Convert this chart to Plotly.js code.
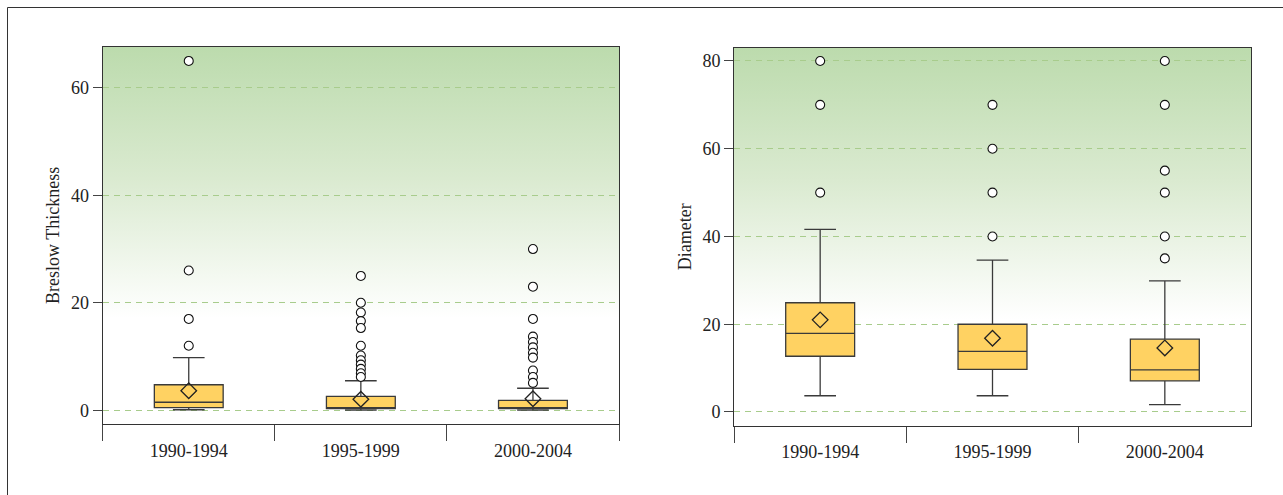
<!DOCTYPE html>
<html>
<head>
<meta charset="utf-8">
<script src="https://cdn.plot.ly/plotly-3.0.1.min.js"></script>
<style>
  html, body { margin: 0; padding: 0; background: #ffffff; }
  #chart { width: 1283px; height: 495px; }
</style>
</head>
<body>
<div id="chart"></div>
<script>
// ---------- data ----------
const categories = ["1990-1994", "1995-1999", "2000-2004"];

// Breslow Thickness
const breslowQ1     = [0.5, 0.3, 0.3];
const breslowMedian = [1.5, 0.4, 0.4];
const breslowQ3     = [4.75, 2.6, 1.85];
const breslowLower  = [0.1, 0.05, 0.05];
const breslowUpper  = [9.8, 5.5, 4.1];
const breslowMean   = [3.65, 2.05, 2.15];
const breslowOut1990 = [12, 17, 26, 65];
const breslowOut1995 = [25, 20, 18.2, 16.6, 15.3, 12, 10.2, 9.3, 8.5, 7.7, 6.9, 6.2];
const breslowOut2000 = [30, 23, 17, 13.7, 12.7, 11.7, 10.7, 9.8, 7.4, 6.2, 5.1];

// Diameter
const diamQ1     = [12.7, 9.7, 7.1];
const diamMedian = [17.9, 13.8, 9.6];
const diamQ3     = [24.9, 20.0, 16.6];
const diamLower  = [3.7, 3.7, 1.7];
const diamUpper  = [41.6, 34.6, 29.9];
const diamMean   = [21.0, 16.8, 14.6];
const diamOut1990 = [50, 70, 80];
const diamOut1995 = [40, 50, 60, 70];
const diamOut2000 = [35, 40, 50, 55, 70, 80];

const breslowTicks = [0, 20, 40, 60];
const diamTicks = [0, 20, 40, 60, 80];

// ---------- helpers ----------
function flattenOutliers(groups) {
  const xs = [], ys = [];
  groups.forEach((g, i) => g.forEach(v => { xs.push(categories[i]); ys.push(v); }));
  return { x: xs, y: ys };
}

const boxFill = "#ffd262";
const boxLine = "#3a3a3a";
const fontFam = "Liberation Serif, Times New Roman, serif";

function boxTrace(xa, ya, q1, med, q3, lo, hi) {
  return {
    type: "box", xaxis: xa, yaxis: ya,
    x: categories, q1: q1, median: med, q3: q3,
    lowerfence: lo, upperfence: hi,
    boxpoints: false, width: 0.4, whiskerwidth: 0.46,
    fillcolor: boxFill, line: { color: boxLine, width: 1.3 },
    hoverinfo: "skip", showlegend: false
  };
}
function meanTrace(xa, ya, mean) {
  return {
    type: "scatter", mode: "markers", xaxis: xa, yaxis: ya,
    x: categories, y: mean,
    marker: { symbol: "diamond-open", size: 12, color: "#222", line: { width: 1.3, color: "#222" } },
    hoverinfo: "skip", showlegend: false
  };
}
function outTrace(xa, ya, groups) {
  const f = flattenOutliers(groups);
  return {
    type: "scatter", mode: "markers", xaxis: xa, yaxis: ya,
    x: f.x, y: f.y,
    marker: { symbol: "circle", size: 9, color: "#ffffff", line: { width: 1.1, color: "#111" } },
    hoverinfo: "skip", showlegend: false
  };
}

const data = [
  boxTrace("x", "y", breslowQ1, breslowMedian, breslowQ3, breslowLower, breslowUpper),
  meanTrace("x", "y", breslowMean),
  outTrace("x", "y", [breslowOut1990, breslowOut1995, breslowOut2000]),
  boxTrace("x2", "y2", diamQ1, diamMedian, diamQ3, diamLower, diamUpper),
  meanTrace("x2", "y2", diamMean),
  outTrace("x2", "y2", [diamOut1990, diamOut1995, diamOut2000])
];

// gradient background (SVG data URI)
const gradSvg = '<svg xmlns="http://www.w3.org/2000/svg" width="100" height="400" preserveAspectRatio="none">' +
  '<defs><linearGradient id="g" x1="0" y1="0" x2="0" y2="1">' +
  '<stop offset="0" stop-color="rgb(188,219,173)"/>' +
  '<stop offset="0.35" stop-color="rgb(218,234,208)"/>' +
  '<stop offset="0.72" stop-color="rgb(255,255,255)"/>' +
  '<stop offset="1" stop-color="rgb(255,255,255)"/>' +
  '</linearGradient></defs><rect width="100" height="400" fill="url(#g)"/></svg>';
const gradSrc = "data:image/svg+xml;charset=utf-8," + encodeURIComponent(gradSvg);

const W = 1283, H = 495;
const gridColor = "rgb(168,204,140)";

function xAxis(domain) {
  return {
    domain: domain, type: "category", categoryarray: categories, categoryorder: "array",
    range: [-0.5, 2.5], tickson: "boundaries", ticks: "outside", ticklen: 16,
    tickcolor: "#444", tickwidth: 1, showline: true, mirror: true,
    linecolor: "#333", linewidth: 1, showgrid: false, zeroline: false,
    ticklabelstandoff: 10,
    tickfont: { family: fontFam, size: 18, color: "#222" }, fixedrange: true
  };
}
function yAxis(domain, range, ticks, title, anchor) {
  return {
    domain: domain, range: range, tickvals: ticks, ticktext: ticks.map(String),
    ticks: "outside", ticklen: 9, tickcolor: "#444", tickwidth: 1,
    showline: true, mirror: true, linecolor: "#333", linewidth: 1,
    showgrid: true, gridcolor: gridColor, griddash: "6px,5px", gridwidth: 1,
    zeroline: false, anchor: anchor,
    tickfont: { family: fontFam, size: 18, color: "#222" },
    title: { text: title, font: { family: fontFam, size: 18, color: "#222" }, standoff: 6 },
    fixedrange: true
  };
}

const layout = {
  width: W, height: H,
  margin: { l: 0, r: 0, t: 0, b: 0, pad: 0 },
  paper_bgcolor: "#ffffff", plot_bgcolor: "#ffffff",
  showlegend: false,
  font: { family: fontFam, size: 18, color: "#222" },
  xaxis: xAxis([102.7 / W, 619 / W]),
  yaxis: yAxis([1 - 424 / H, 1 - 46.7 / H], [-2.55, 67.65], breslowTicks, "Breslow Thickness", "x"),
  xaxis2: Object.assign(xAxis([734 / W, 1251 / W]), { anchor: "y2" }),
  yaxis2: yAxis([1 - 425.5 / H, 1 - 48 / H], [-3.08, 82.96], diamTicks, "Diameter", "x2"),
  images: [
    { source: gradSrc, xref: "x domain", yref: "y domain", x: 0, y: 1, sizex: 1, sizey: 1,
      xanchor: "left", yanchor: "top", sizing: "stretch", layer: "below" },
    { source: gradSrc, xref: "x2 domain", yref: "y2 domain", x: 0, y: 1, sizex: 1, sizey: 1,
      xanchor: "left", yanchor: "top", sizing: "stretch", layer: "below" }
  ],
  shapes: [
    { type: "rect", xref: "paper", yref: "paper",
      x0: 7.5 / W, x1: 1.05, y0: -0.05, y1: 1 - 7.5 / H,
      line: { color: "#333", width: 1 }, fillcolor: "rgba(0,0,0,0)", layer: "above" }
  ]
};
layout.xaxis.anchor = "y";

Plotly.newPlot("chart", data, layout, { staticPlot: true, displayModeBar: false });
</script>
</body>
</html>
